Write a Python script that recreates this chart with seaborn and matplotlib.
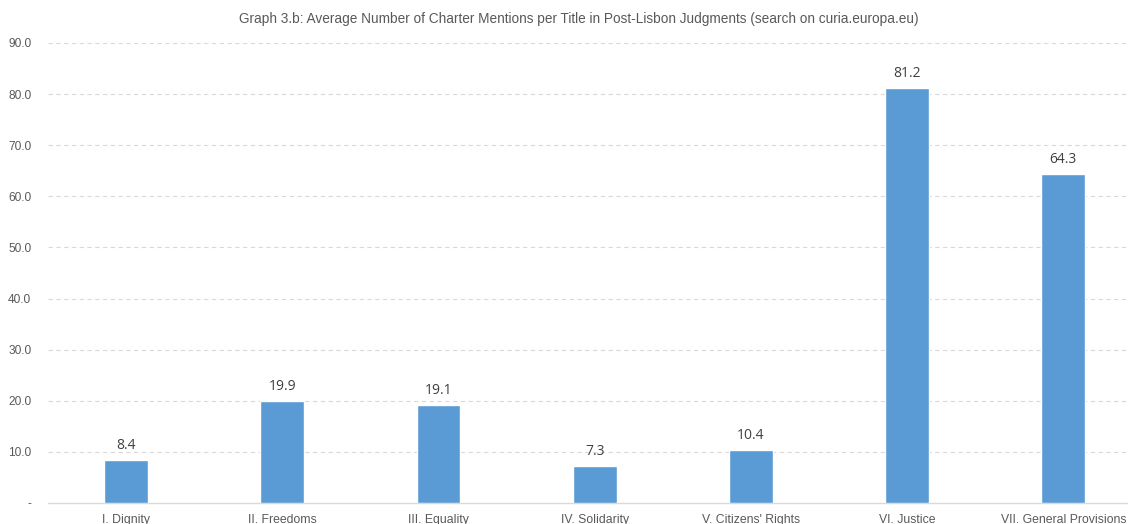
import matplotlib
matplotlib.use("Agg")
import matplotlib.pyplot as plt
import seaborn as sns
import pandas as pd

categories = ["I. Dignity", "II. Freedoms", "III. Equality", "IV. Solidarity",
              "V. Citizens' Rights", "VI. Justice", "VII. General Provisions"]
values = [8.4, 19.9, 19.1, 7.3, 10.4, 81.2, 64.3]
yticks = [0, 10, 20, 30, 40, 50, 60, 70, 80, 90]
title = "Graph 3.b: Average Number of Charter Mentions per Title in Post-Lisbon Judgments (search on curia.europa.eu)"

sns.set_style("white")
plt.rcParams['font.family'] = ['Liberation Sans', 'DejaVu Sans']

df = pd.DataFrame({"cat": categories, "val": values})

W, H = 1128, 524
fig = plt.figure(figsize=(W / 100, H / 100), dpi=100)
ax = fig.add_axes([48 / W, 21 / H, 1080 / W, 460 / H])

sns.barplot(data=df, x="cat", y="val", color="#5B9BD5", saturation=1,
            width=0.28, ax=ax, zorder=3)

ax.set_ylim(0, 90)
ax.set_xlim(-0.5, -0.5 + 1080 / 156.2)
ax.set_yticks(yticks)
ax.set_yticklabels(["-" if v == 0 else f"{v:.1f}" for v in yticks],
                   fontsize=8.6, color="#595959")
ax.tick_params(axis="x", labelsize=8.8, colors="#595959", length=0, pad=8)
ax.tick_params(axis="y", length=0, pad=12)
for lbl in ax.get_xticklabels():
    lbl.set_color("#595959")

for v in yticks[1:]:
    ax.axhline(v, color="#D9D9D9", linestyle=(0, (4, 3)), linewidth=0.8, zorder=1)

for s in ["top", "right", "left"]:
    ax.spines[s].set_visible(False)
ax.spines["bottom"].set_color("#D9D9D9")
ax.spines["bottom"].set_linewidth(1.0)

ax.set_xlabel("")
ax.set_ylabel("")

for i, v in enumerate(values):
    ax.annotate(f"{v:.1f}", (i, v), xytext=(0, 5), textcoords="offset points",
                ha="center", va="bottom", fontsize=10, color="#404040",
                family=["Open Sans", "DejaVu Sans"])

fig.text(579 / W, 1 - 19 / H, title, ha="center", va="center",
         fontsize=9.8, color="#595959")

fig.savefig("out.png", dpi=100)
